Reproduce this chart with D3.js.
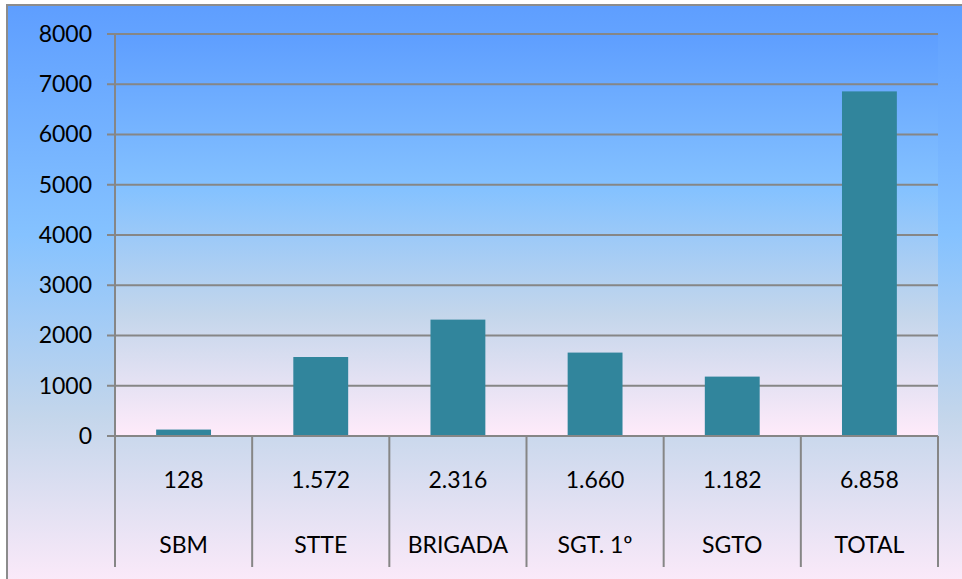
<!DOCTYPE html>
<html>
<head>
<meta charset="utf-8">
<script src="https://cdn.jsdelivr.net/npm/d3@7"></script>
<style>
  body { margin: 0; background: #fff; }
  text { font-family: Lato, "Open Sans", sans-serif; fill: #000; }
</style>
</head>
<body>
<div id="chart"></div>
<script>
const categories = ["SBM", "STTE", "BRIGADA", "SGT. 1º", "SGTO", "TOTAL"]
const values = [128, 1572, 2316, 1660, 1182, 6858]
const valueLabels = ["128", "1.572", "2.316", "1.660", "1.182", "6.858"]
const yTicks = [0, 1000, 2000, 3000, 4000, 5000, 6000, 7000, 8000]

const outerWidth = 962
const outerHeight = 579
const margin = {top: 34, right: 24, bottom: 143, left: 115}
const w = outerWidth - margin.left - margin.right
const h = outerHeight - margin.top - margin.bottom
const tableH = 131

const svg = d3.select("#chart")
    .append("svg")
    .attr("width", outerWidth)
    .attr("height", outerHeight)

const defs = svg.append("defs")
function daybreak(id) {
    const g = defs.append("linearGradient")
        .attr("id", id)
        .attr("x1", 0).attr("y1", 0).attr("x2", 0).attr("y2", 1)
    const stops = [[0, "#5E9EFF"], [0.39, "#85C2FF"], [0.7, "#C4D6EB"], [1, "#FFEBFA"]]
    stops.forEach(s => g.append("stop").attr("offset", s[0]).attr("stop-color", s[1]))
}
daybreak("bgOuter")
daybreak("bgPlot")

// chart area
svg.append("rect")
    .attr("x", 7).attr("y", 5)
    .attr("width", outerWidth + 10).attr("height", outerHeight + 10)
    .attr("fill", "url(#bgOuter)")
    .attr("stroke", "#8c8c8c")
    .attr("stroke-width", 2)

const g = svg.append("g")
    .attr("transform", `translate(${margin.left}, ${margin.top})`)

// plot area
g.append("rect")
    .attr("width", w).attr("height", h)
    .attr("fill", "url(#bgPlot)")

const xScale = d3.scaleBand()
    .domain(categories)
    .range([0, w])
    .paddingInner(0.6)
    .paddingOuter(0.3)

const xCol = d3.scaleBand()
    .domain(categories)
    .range([0, w])

const yScale = d3.scaleLinear()
    .domain([0, 8000])
    .range([h, 0])

// gridlines
g.append("g")
    .selectAll("line")
    .data(yTicks)
    .join("line")
    .attr("x1", -8)
    .attr("x2", w)
    .attr("y1", d => yScale(d))
    .attr("y2", d => yScale(d))
    .attr("stroke", "#868686")
    .attr("stroke-width", 2)

const yAxis = d3.axisLeft(yScale)
    .tickValues(yTicks)
    .tickFormat(d3.format("d"))
    .tickSize(0)
    .tickPadding(23)

g.append("g")
    .attr("class", "axis y-axis")
    .call(yAxis)
    .call(s => s.select(".domain").remove())
    .selectAll("text")
    .attr("font-size", 23)

g.append("line")
    .attr("x1", 0).attr("x2", 0)
    .attr("y1", 0).attr("y2", h + tableH)
    .attr("stroke", "#868686")
    .attr("stroke-width", 2)

// bars
g.append("g")
    .selectAll("rect")
    .data(values)
    .join("rect")
    .attr("x", (d, i) => xScale(categories[i]))
    .attr("y", d => yScale(d))
    .attr("width", xScale.bandwidth())
    .attr("height", d => yScale(0) - yScale(d))
    .attr("fill", "#31859c")

// data table
g.append("line")
    .attr("x1", -8).attr("x2", w)
    .attr("y1", h).attr("y2", h)
    .attr("stroke", "#868686")
    .attr("stroke-width", 2)

g.append("g")
    .selectAll("line")
    .data(categories)
    .join("line")
    .attr("x1", d => xCol(d) + xCol.bandwidth())
    .attr("x2", d => xCol(d) + xCol.bandwidth())
    .attr("y1", h)
    .attr("y2", h + tableH)
    .attr("stroke", "#868686")
    .attr("stroke-width", 2)

g.append("g")
    .selectAll("text")
    .data(valueLabels)
    .join("text")
    .attr("x", (d, i) => xCol(categories[i]) + xCol.bandwidth() / 2)
    .attr("y", h + 44)
    .attr("dy", "0.35em")
    .attr("text-anchor", "middle")
    .attr("font-size", 23)
    .text(d => d)

g.append("g")
    .selectAll("text")
    .data(categories)
    .join("text")
    .attr("x", d => xCol(d) + xCol.bandwidth() / 2)
    .attr("y", h + 109)
    .attr("dy", "0.35em")
    .attr("text-anchor", "middle")
    .attr("font-size", 23)
    .text(d => d)
</script>
</body>
</html>
